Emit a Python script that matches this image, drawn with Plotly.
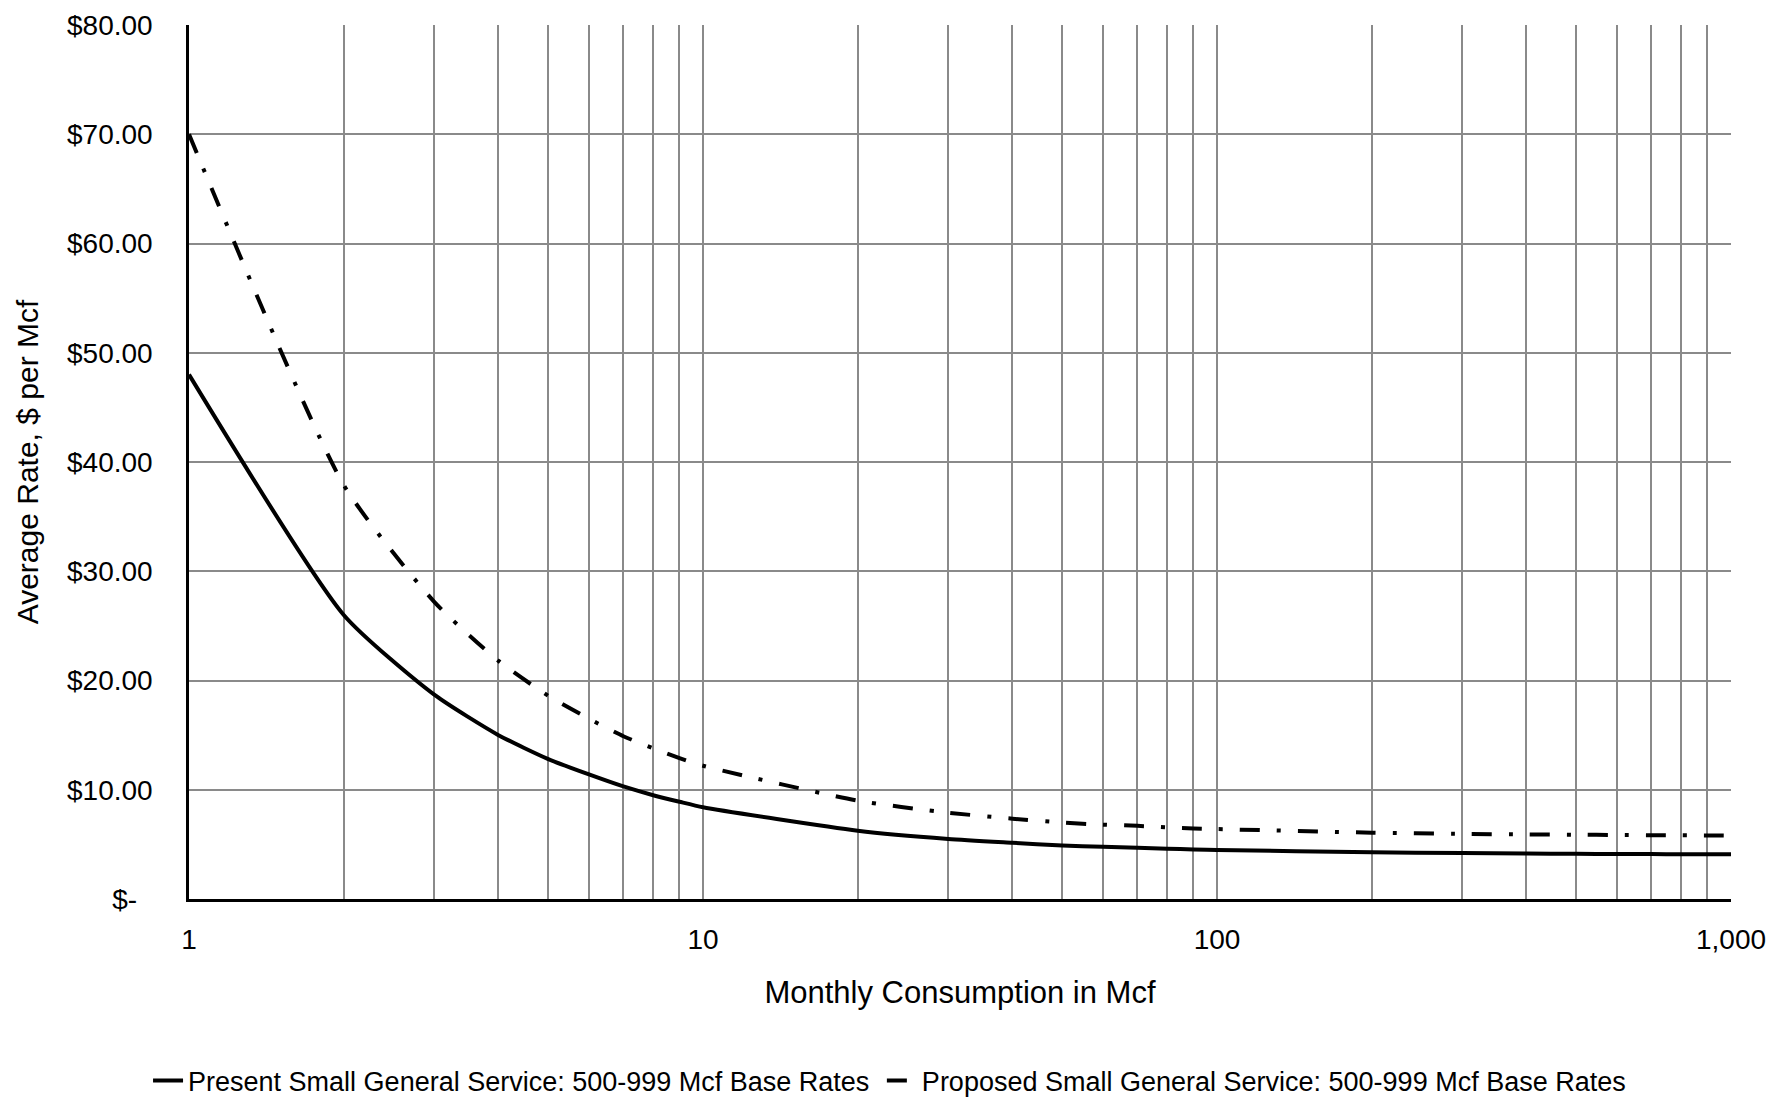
import plotly.graph_objects as go

# Monthly consumption (Mcf)
consumption = [1, 2, 3, 4, 5, 6, 7, 8, 9, 10, 20, 30, 40, 50, 60, 70, 80, 90, 100,
               200, 300, 400, 500, 600, 700, 800, 900, 1000]
# Average rate, $ per Mcf
present_rate = [48.0, 26.0, 18.7, 15.0, 12.8, 11.4, 10.3, 9.5, 8.9, 8.4, 6.25, 5.5, 5.15, 4.9,
                4.78, 4.68, 4.6, 4.54, 4.49, 4.27, 4.2, 4.16, 4.14, 4.12, 4.11, 4.1, 4.1, 4.09]
proposed_rate = [70.0, 37.9, 27.2, 21.8, 18.6, 16.5, 14.9, 13.8, 12.9, 12.2, 9.0, 7.9, 7.35, 7.0,
                 6.8, 6.7, 6.55, 6.45, 6.4, 6.07, 5.96, 5.91, 5.88, 5.86, 5.84, 5.83, 5.82, 5.81]

series_names = ["Present Small General Service: 500-999 Mcf Base Rates",
                "Proposed Small General Service: 500-999 Mcf Base Rates"]

y_tickvals = [0, 10, 20, 30, 40, 50, 60, 70, 80]
y_ticktext = ["$-\u00a0\u00a0", "$10.00", "$20.00", "$30.00", "$40.00", "$50.00", "$60.00", "$70.00", "$80.00"]

x_gridvals = [1, 2, 3, 4, 5, 6, 7, 8, 9, 10, 20, 30, 40, 50, 60, 70, 80, 90, 100,
              200, 300, 400, 500, 600, 700, 800, 900, 1000]
x_major_labels = {1: "1", 10: "10", 100: "100", 1000: "1,000"}
x_ticktext = [x_major_labels.get(v, "") for v in x_gridvals]

FONT = "Liberation Sans"

fig = go.Figure()
fig.add_trace(go.Scatter(x=consumption, y=present_rate, mode="lines", name=series_names[0] + "\u00a0",
                         line=dict(color="black", width=4, shape="spline", smoothing=0.6)))
fig.add_trace(go.Scatter(x=consumption, y=proposed_rate, mode="lines", name=series_names[1],
                         line=dict(color="black", width=4, shape="spline", smoothing=0.6,
                                   dash="20px,17px,4px,17px")))

fig.update_layout(
    width=1772, height=1098,
    margin=dict(l=189, r=41, t=25, b=199, autoexpand=False),
    paper_bgcolor="white", plot_bgcolor="white",
    font=dict(family=FONT, size=28, color="black"),
    showlegend=True,
    legend=dict(orientation="h", x=0.502, xanchor="center", xref="container",
                y=0.0155, yanchor="middle", yref="container", font=dict(family=FONT, size=27),
                traceorder="normal"),
    xaxis=dict(type="log", range=[0, 3], tickvals=x_gridvals, ticktext=x_ticktext,
               showgrid=True, gridcolor="#8a8a8a", gridwidth=2,
               showline=True, linecolor="black", linewidth=2.5, mirror=False,
               ticks="", ticklabelstandoff=14, zeroline=False,
               title=dict(text="Monthly Consumption in Mcf", font=dict(size=31), standoff=27)),
    yaxis=dict(range=[0, 80], tickvals=y_tickvals, ticktext=y_ticktext,
               showgrid=True, gridcolor="#8a8a8a", gridwidth=2,
               showline=True, linecolor="black", linewidth=2.5, mirror=False,
               ticks="", ticklabelstandoff=28, zeroline=False,
               title=dict(text="Average Rate, $ per Mcf", font=dict(size=30), standoff=20)),
)

fig.write_html("out.html")
